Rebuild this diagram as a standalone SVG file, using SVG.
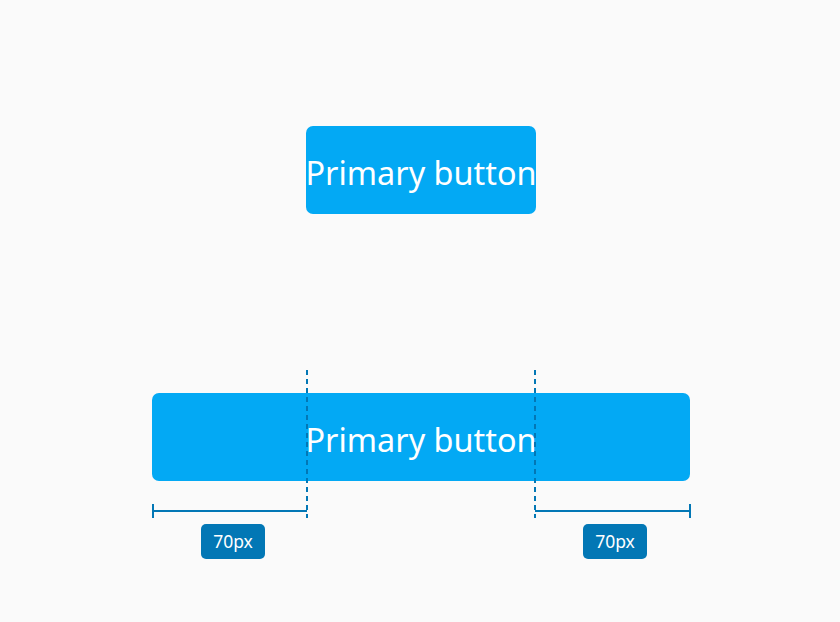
<svg xmlns="http://www.w3.org/2000/svg" width="840" height="622" viewBox="0 0 840 622">
<style>
.btn{fill:#03a9f4}
.btxt{fill:#ffffff;font-family:"Noto Sans","Open Sans",sans-serif;font-size:32.4px;text-anchor:middle}
.dim{stroke:#0277b5;stroke-width:2;fill:none}
.dash{stroke:#0277b5;stroke-width:2;stroke-dasharray:5 4;fill:none}
.lbl{fill:#0277b5}
.ltxt{fill:#ffffff;font-family:"Noto Sans","Open Sans",sans-serif;font-size:17.5px;text-anchor:middle}
</style>
<rect width="840" height="622" fill="#fafafa"/>
<g id="button-top">
<rect class="btn" x="306" y="126" width="230" height="88" rx="7"/>
<text class="btxt" x="421" y="185">Primary button</text>
</g>
<g id="button-wide">
<rect class="btn" x="152" y="393" width="538" height="88" rx="7"/>
<text class="btxt" x="421" y="452">Primary button</text>
</g>
<g id="connectors">
<line class="dash" x1="307" y1="370" x2="307" y2="518"/>
<line class="dash" x1="535" y1="370" x2="535" y2="518"/>
<line class="dim" x1="153" y1="511" x2="307" y2="511"/>
<line class="dim" x1="153" y1="504" x2="153" y2="518"/>
<line class="dim" x1="535" y1="511" x2="690" y2="511"/>
<line class="dim" x1="690" y1="504" x2="690" y2="518"/>
</g>
<g id="label-left">
<rect class="lbl" x="201" y="524" width="64" height="35" rx="5"/>
<text class="ltxt" x="233" y="548">70px</text>
</g>
<g id="label-right">
<rect class="lbl" x="583" y="524" width="64" height="35" rx="5"/>
<text class="ltxt" x="615" y="548">70px</text>
</g>
</svg>
